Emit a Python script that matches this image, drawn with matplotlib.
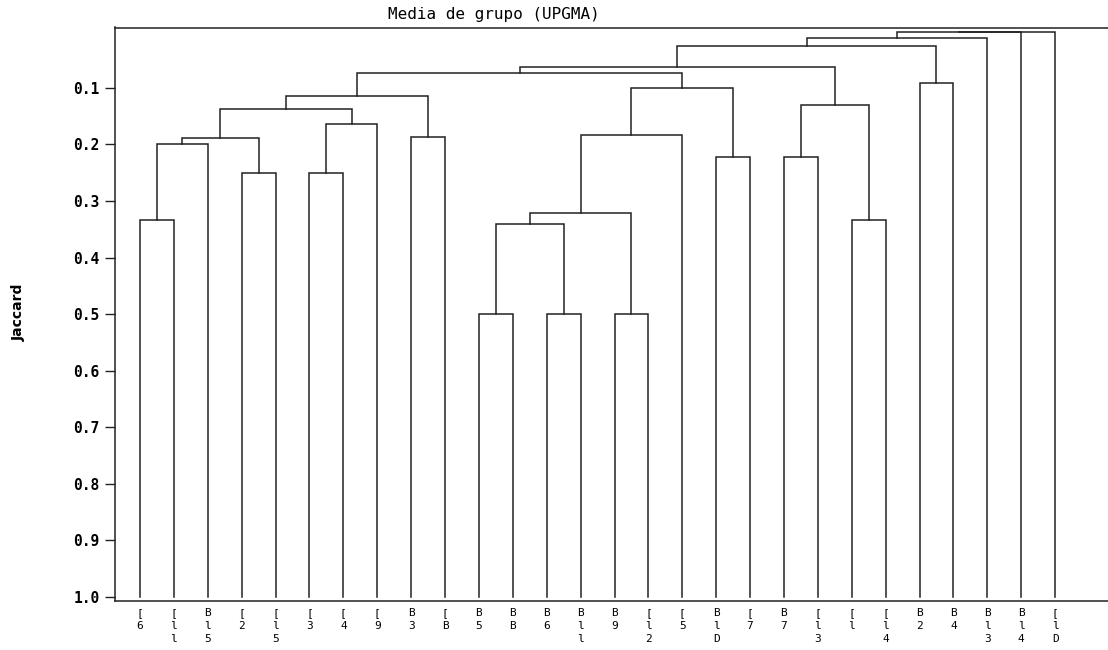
import matplotlib
matplotlib.use('Agg')
import matplotlib.pyplot as plt

# leaf labels, left to right (as printed, one character per row)
leaf_labels = ["[6", "[ll", "Bl5", "[2", "[l5", "[3", "[4", "[9", "B3", "[B",
               "B5", "BB", "B6", "Bll", "B9", "[l2", "[5", "BlD", "[7", "B7",
               "[l3", "[l", "[l4", "B2", "B4", "Bl3", "Bl4", "[lD"]

# UPGMA merges: leaves are 0..27, each merge makes a new cluster 28, 29, ...
merge_a = [0, 28, 3, 29, 5, 32, 31, 8, 34, 10, 12, 14, 37, 40, 41, 17, 42, 36,
           19, 21, 46, 45, 23, 49, 51, 52, 53]
merge_b = [1, 2, 4, 30, 6, 7, 33, 9, 35, 11, 13, 15, 38, 39, 16, 18, 43, 44,
           20, 22, 47, 48, 24, 50, 25, 26, 27]
merge_h = [0.333, 0.200, 0.250, 0.188, 0.250, 0.164, 0.138, 0.186, 0.114,
           0.500, 0.500, 0.500, 0.341, 0.321, 0.184, 0.222, 0.100, 0.074,
           0.222, 0.333, 0.131, 0.0635, 0.092, 0.0265, 0.0125, 0.001, 0.001]

yticks = [0.1, 0.2, 0.3, 0.4, 0.5, 0.6, 0.7, 0.8, 0.9, 1.0]

n = len(leaf_labels)
xs = [float(i) for i in range(n)]
ys = [1.0] * n

W, H = 1108, 650
fig = plt.figure(figsize=(W / 100, H / 100), dpi=100)
ax = fig.add_axes([114.5 / W, 49 / H, (W - 114.5) / W, 573.5 / H])

line_col = '#222222'
for a, b, h in zip(merge_a, merge_b, merge_h):
    ax.plot([xs[a], xs[a], xs[b], xs[b]], [ys[a], h, h, ys[b]],
            color=line_col, lw=1.1, solid_joinstyle='miter')
    xs.append((xs[a] + xs[b]) / 2)
    ys.append(h)

ax.set_xlim(-0.752, 28.56)
ax.set_ylim(1.0071, -0.0067)

ax.set_yticks(yticks)
ax.set_yticklabels(['%.1f' % v for v in yticks], family='DejaVu Sans Mono',
                   fontweight='bold', fontsize=10.5)
ax.tick_params(axis='y', direction='out', length=7.2, width=1, pad=3.6,
               color=line_col)

ax.set_xticks(range(n))
ax.set_xticklabels(['\n'.join(s) for s in leaf_labels], family='DejaVu Sans Mono',
                   fontsize=8, linespacing=1.35, va='top')
ax.tick_params(axis='x', length=0, pad=5)

ax.spines['right'].set_visible(False)
for s in ['left', 'top', 'bottom']:
    ax.spines[s].set_color(line_col)
    ax.spines[s].set_linewidth(1.1)

fig.text(494 / W, 1 - 15 / H, 'Media de grupo (UPGMA)', family='DejaVu Sans Mono',
         fontsize=11.5, ha='center', va='center')
fig.text(19 / W, 1 - 312 / H, 'Jaccard', fontweight='bold', fontsize=10,
         rotation=90, ha='center', va='center')

fig.savefig('out.png', dpi=100)
